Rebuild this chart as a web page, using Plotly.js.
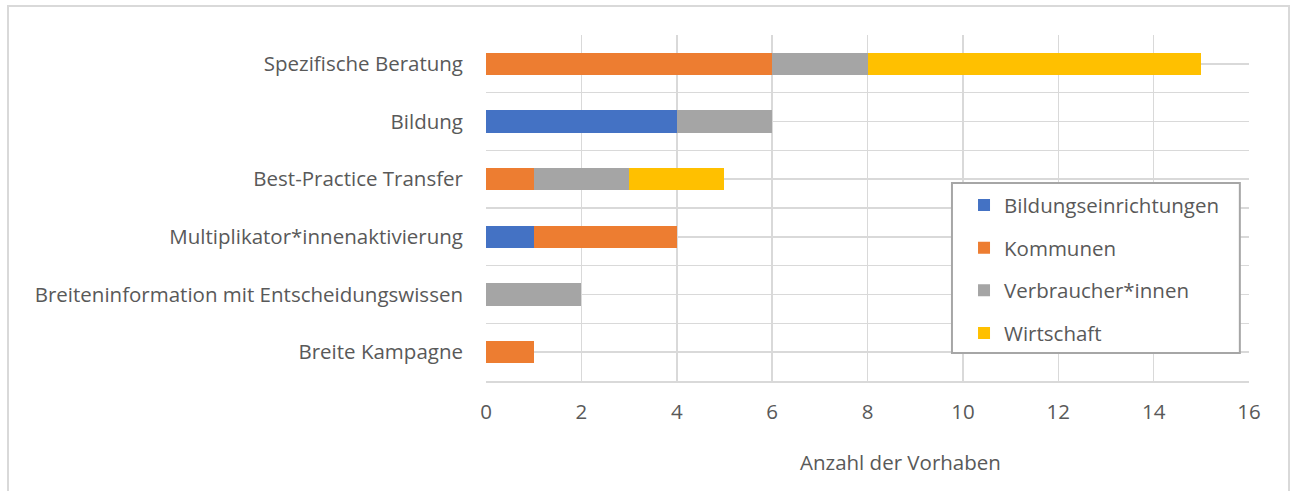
<!DOCTYPE html>
<html><head><meta charset="utf-8">
<script src="https://cdn.plot.ly/plotly-3.0.1.min.js"></script>
<style>
html,body{margin:0;padding:0;background:#fff;}
#chart{position:absolute;left:0;top:0;width:1292px;height:491px;}
#frame{position:absolute;left:7px;top:5px;width:1283px;height:490px;border:2px solid #d9d9d9;box-sizing:border-box;pointer-events:none;}
</style></head>
<body>
<div id="chart"></div>
<div id="frame"></div>
<script>
const categories = ["Spezifische Beratung","Bildung","Best-Practice Transfer","Multiplikator*innenaktivierung","Breiteninformation mit Entscheidungswissen","Breite Kampagne"];
const seriesNames = ["Bildungseinrichtungen","Kommunen","Verbraucher*innen","Wirtschaft"];
const bildungseinrichtungen = [0,4,0,1,0,0];
const kommunen = [6,0,1,3,0,1];
const verbraucher = [2,2,2,0,2,0];
const wirtschaft = [7,0,2,0,0,0];
const xTicks = [0,2,4,6,8,10,12,14,16];
const colors = ["#4472C4","#ED7D31","#A5A5A5","#FFC000"];

const seriesValues = [bildungseinrichtungen,kommunen,verbraucher,wirtschaft];
const idx = categories.map((c,i)=>i);
const traces = seriesValues.map((vals,s)=>({
  type:'bar', orientation:'h', name:seriesNames[s], legendgroup:'g'+s,
  x: vals, y: idx, width:0.39,
  marker:{color:colors[s], line:{width:0}},
  hoverinfo:'x+name'
}));

const FS = 20.5;
const font = {family:'"Open Sans", "Noto Sans", sans-serif', color:'#595959', size:FS};
const layout = {
  width:1292, height:491,
  margin:{l:486, r:43, t:35, b:110},
  paper_bgcolor:'#fff', plot_bgcolor:'#fff',
  barmode:'stack', font:font,
  xaxis:{range:[0,16], tickmode:'array', tickvals:xTicks, ticktext:xTicks.map(String),
    showgrid:true, gridcolor:'#d9d9d9', gridwidth:1.5, zeroline:false,
    showline:true, linecolor:'#d9d9d9', linewidth:1.5, ticks:'', ticklabelstandoff:12,
    tickfont:{size:FS, color:'#595959'}},
  yaxis:{range:[5.5,-0.5], tickmode:'array', tickvals:idx, ticktext:categories,
    showgrid:true, gridcolor:'#d9d9d9', gridwidth:1.5, zeroline:false,
    showline:false, ticks:'', ticklabelstandoff:22,
    minor:{tickmode:'linear', tick0:-0.5, dtick:1, showgrid:true, gridcolor:'#d9d9d9', gridwidth:1.5, ticks:''},
    tickfont:{size:FS, color:'#595959'}},
  legend:{x:0.6265, y:0.566, xanchor:'left', yanchor:'top',
    borderwidth:0, bgcolor:'rgba(0,0,0,0)',
    traceorder:'grouped', tracegroupgap:13,
    font:{size:FS, color:'#595959'}},
  shapes:[{type:'rect', xref:'paper', yref:'paper', x0:0.6107, x1:0.988, y0:0.081, y1:0.572,
    line:{color:'#a6a6a6', width:2}, fillcolor:'#ffffff', layer:'above'}],
  annotations:[{text:'Anzahl der Vorhaben', xref:'paper', yref:'paper', x:0.5426, y:-0.235,
    xanchor:'center', yanchor:'middle', showarrow:false, font:{size:FS, color:'#595959'}}],
  showlegend:true
};
Plotly.newPlot('chart', traces, layout, {displayModeBar:false, staticPlot:true});
</script>
</body></html>
